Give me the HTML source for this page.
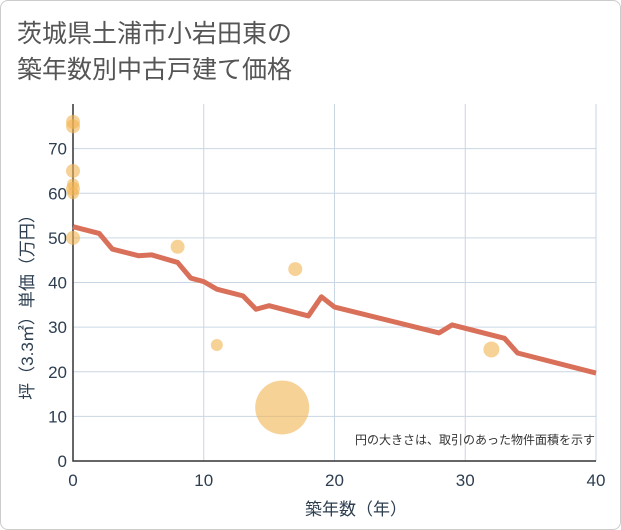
<!DOCTYPE html>
<html><head><meta charset="utf-8"><style>
body{margin:0;background:#fff;font-family:"Liberation Sans","Noto Sans CJK JP",sans-serif}
#wrap{position:relative;width:619px;height:528px;border:1px solid #ccc;border-radius:8px;overflow:hidden}
</style></head><body>
<div id="wrap">
<svg id="c" width="619" height="528">
<text x="16" y="41" font-size="25" fill="#555">茨城県土浦市小岩田東の</text>
<text x="16" y="77" font-size="25" fill="#555">築年数別中古戸建て価格</text>
<g id="grid"></g><g id="marks"></g>
<text x="594" y="443" font-size="12" fill="#333" text-anchor="end">円の大きさは、取引のあった物件面積を示す</text>
<text x="355" y="514" font-size="17" fill="#2d3e50" text-anchor="middle">築年数（年）</text>
<text transform="translate(32,302) rotate(-90)" font-size="17" fill="#2d3e50" text-anchor="middle">坪（3.3㎡）単価（万円）</text>
</svg></div>
<script>
const xTicks=[0,10,20,30,40];
const yTicks=[0,10,20,30,40,50,60,70];
const lineX=[0,2,3,5,6,8,9,10,11,13,14,15,18,19,20,28,29,33,34,40];
const lineY=[52.5,51,47.5,46,46.2,44.5,41,40.2,38.5,37,34,34.8,32.5,36.8,34.5,28.7,30.5,27.5,24.2,19.7];
const ptX=[0,0,0,0,0,0,0,8,11,17,16,32];
const ptY=[76,75,65,62,61,60,50,48,26,43,12,25];
const ptR=[7,7,7,6,7,6,7,7,6,7,27,8];
const L=72,R=595,T=103,B=460;
const sx=v=>L+(R-L)*v/40, sy=v=>B-(B-T)*v/80;
const ns="http://www.w3.org/2000/svg";
const g=document.getElementById('grid'), m=document.getElementById('marks');
function el(t,a,p){const e=document.createElementNS(ns,t);for(const k in a)e.setAttribute(k,a[k]);p.appendChild(e);return e;}
xTicks.forEach(v=>{const l=el('line',{x1:sx(v),x2:sx(v),y1:T,y2:B,stroke:'#c9d6e3'},g);

const t=el('text',{x:sx(v),y:B+25,'font-size':17,fill:'#2d3e50','text-anchor':'middle'},g);t.textContent=v;
});
yTicks.forEach(v=>{const l=el('line',{x1:L,x2:R,y1:sy(v),y2:sy(v),stroke:'#c9d6e3'},g);

const t=el('text',{x:L-6,y:sy(v)+6,'font-size':17,fill:'#2d3e50','text-anchor':'end'},g);t.textContent=v;
});
const ax=el('path',{d:`M${L} ${T}V${B}H${R}`,stroke:'#333',fill:'none','stroke-width':1.5},g);

ptX.forEach((x,i)=>{const c=el('circle',{cx:sx(x),cy:sy(ptY[i]),r:ptR[i],fill:'#f2b452','fill-opacity':0.6},m);
});
const p=el('polyline',{points:lineX.map((x,i)=>sx(x)+','+sy(lineY[i])).join(' '),fill:'none',stroke:'#d9705a','stroke-width':5,'stroke-linejoin':'round'},m);

</script></body></html>
